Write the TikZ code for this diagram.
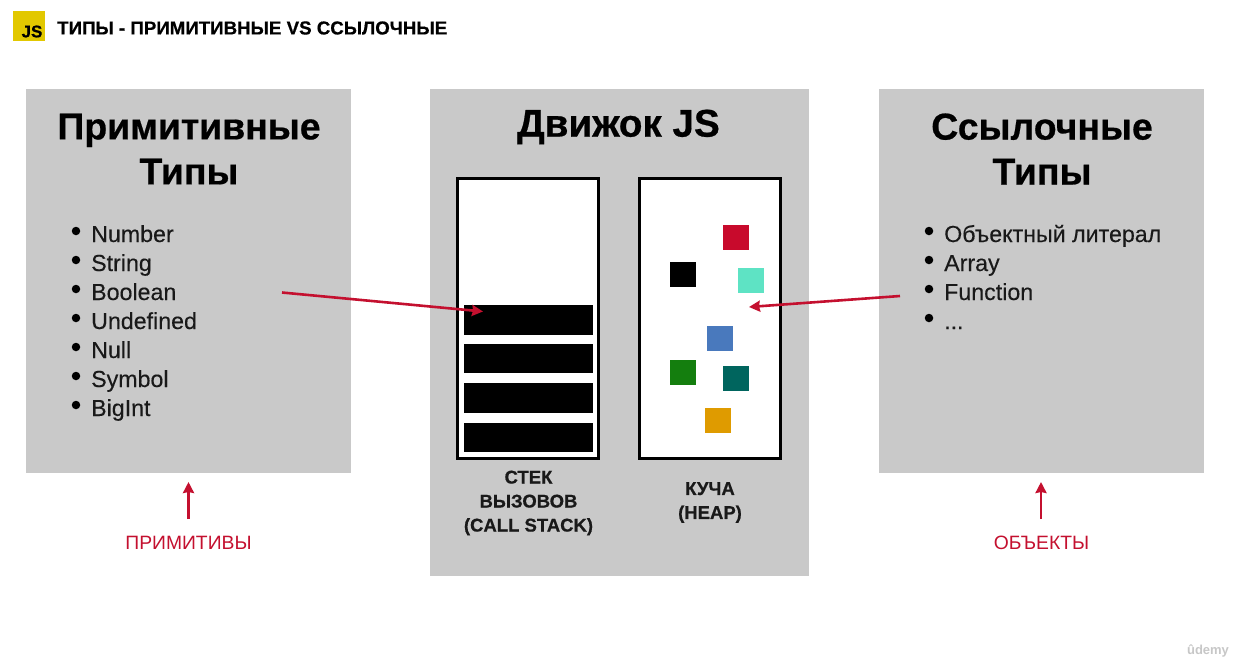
\documentclass[tikz,border=0pt]{standalone}
\usepackage{fontspec}
\setmainfont{Liberation Sans}
\newfontfamily\heavyfont[FakeBold=0.6]{Liberation Sans}
\newfontfamily\mediumfont[FakeBold=0.25]{Liberation Sans}
\usetikzlibrary{arrows.meta}
\definecolor{panel}{HTML}{C9C9C9}
\definecolor{accent}{HTML}{C4102F}
\definecolor{jsy}{HTML}{E2C800}
\newcommand{\threedots}{...}
\tikzset{
  panelbox/.style={fill=panel,draw=none,anchor=north west,inner sep=0pt},
  memorybox/.style={fill=white,draw=black,line width=3pt,anchor=north west,inner sep=0pt,outer sep=0pt},
  frame/.style={fill=black,draw=none,anchor=north west,inner sep=0pt,minimum width=129pt,minimum height=29.5pt},
  obj/.style={draw=none,anchor=north west,inner sep=0pt,minimum width=26pt,minimum height=25pt},
  heading/.style={font=\fontsize{37.4}{45}\selectfont\heavyfont\bfseries,align=center,text=black,inner sep=0pt},
  listitem/.style={font=\fontsize{23.2}{29}\selectfont\mediumfont,anchor=base west,inner sep=0pt,text=black!90},
  bulletdot/.style={circle,fill=black,inner sep=0pt,minimum size=8.5pt},
  caption/.style={font=\fontsize{18.5}{24}\selectfont\heavyfont\bfseries,align=center,inner sep=0pt,text=black!90},
  redlabel/.style={font=\fontsize{19.3}{24}\selectfont,text=accent,inner sep=0pt},
  redarrow/.style={draw=accent,line width=2.6pt,-{Stealth[inset=1pt,length=11pt,width=11pt]}}
}
\begin{document}
\begin{tikzpicture}[x=1pt,y=-1pt]
\useasboundingbox (0,0) rectangle (1238,665);
\fill[white] (0,0) rectangle (1238,665);

% header
\node[fill=jsy,anchor=north west,inner sep=0pt,minimum width=32pt,minimum height=30pt] (logo) at (13,11) {};
\node[font=\fontsize{17}{20}\selectfont\heavyfont\bfseries,inner sep=0pt] (logotext) at (32,31.5) {JS};
\node[font=\fontsize{18.7}{22}\selectfont\heavyfont\bfseries,anchor=west,inner sep=0pt] (title) at (57,28) {ТИПЫ - ПРИМИТИВНЫЕ VS ССЫЛОЧНЫЕ};

% panels
\node[panelbox,minimum width=325pt,minimum height=384pt] (left) at (26,89) {};
\node[panelbox,minimum width=379pt,minimum height=487pt] (mid) at (430,89) {};
\node[panelbox,minimum width=325pt,minimum height=384pt] (right) at (879,89) {};

% headings
\node[heading] (lefthead) at (189,149) {Примитивные\\Типы};
\node[heading,font=\fontsize{38.7}{45}\selectfont\heavyfont\bfseries] (midhead) at (618.5,127) {Движок JS};
\node[heading] (righthead) at (1042,149) {Ссылочные\\Типы};

% left list
\foreach \n/\y/\t in {a/234/Number,b/263/String,c/292/Boolean,d/321/Undefined,e/350/Null,f/379/Symbol,g/408/BigInt}{
  \node[bulletdot] (l\n) at (76,{\y-3}) {};
  \node[listitem] (lt\n) at (91,{\y+8}) {\t};
}
% right list
\foreach \n/\y/\t in {a/234/Объектный литерал,b/263/Array,c/292/Function,d/321/\threedots}{
  \node[bulletdot] (r\n) at (929,{\y-3}) {};
  \node[listitem] (rt\n) at (944,{\y+8}) {\t};
}

% stack and heap
\node[memorybox,minimum width=141pt,minimum height=280.5pt] (stack) at (457.5,178.2) {};
\node[memorybox,minimum width=141pt,minimum height=280.5pt] (heap) at (639.5,178.2) {};
\node[frame] (f1) at (464,305) {};
\node[frame] (f2) at (464,343.5) {};
\node[frame] (f3) at (464,383) {};
\node[frame] (f4) at (464,422.5) {};

% heap objects
\node[obj,fill={rgb,255:red,200;green,10;blue,44}] (o1) at (723,225) {};
\node[obj,fill=black] (o2) at (670,262) {};
\node[obj,fill={rgb,255:red,94;green,227;blue,196}] (o3) at (738,268) {};
\node[obj,fill={rgb,255:red,73;green,121;blue,189}] (o4) at (707,326) {};
\node[obj,fill={rgb,255:red,20;green,126;blue,14}] (o5) at (670,360) {};
\node[obj,fill={rgb,255:red,0;green,101;blue,94}] (o6) at (723,366) {};
\node[obj,fill={rgb,255:red,223;green,155;blue,0}] (o7) at (705,407.5) {};

% captions
\node[caption] (stackcap) at (528.5,503) {СТЕК\\ВЫЗОВОВ\\(CALL STACK)};
\node[caption] (heapcap) at (710,502.5) {КУЧА\\(HEAP)};
\node[redlabel] (prim) at (188.5,543) {ПРИМИТИВЫ};
\node[redlabel] (objs) at (1041.5,543) {ОБЪЕКТЫ};

% arrows
\coordinate (s1) at (282,292.5);
\coordinate (e1) at (483,311.5);
\coordinate (s2) at (900,296);
\coordinate (e2) at (749,307);
\coordinate (p1) at (188.5,519);
\coordinate (p2) at (188.5,482);
\coordinate (q1) at (1041,519);
\coordinate (q2) at (1041,482);
\draw[redarrow] (s1) -- (e1);
\draw[redarrow] (s2) -- (e2);
\draw[redarrow] (p1) -- (p2);
\draw[redarrow] (q1) -- (q2);

% watermark
\node[font=\fontsize{13}{15}\selectfont\bfseries,text=black!22,inner sep=0pt] (wm) at (1208,651) {ûdemy};
\end{tikzpicture}
\end{document}
